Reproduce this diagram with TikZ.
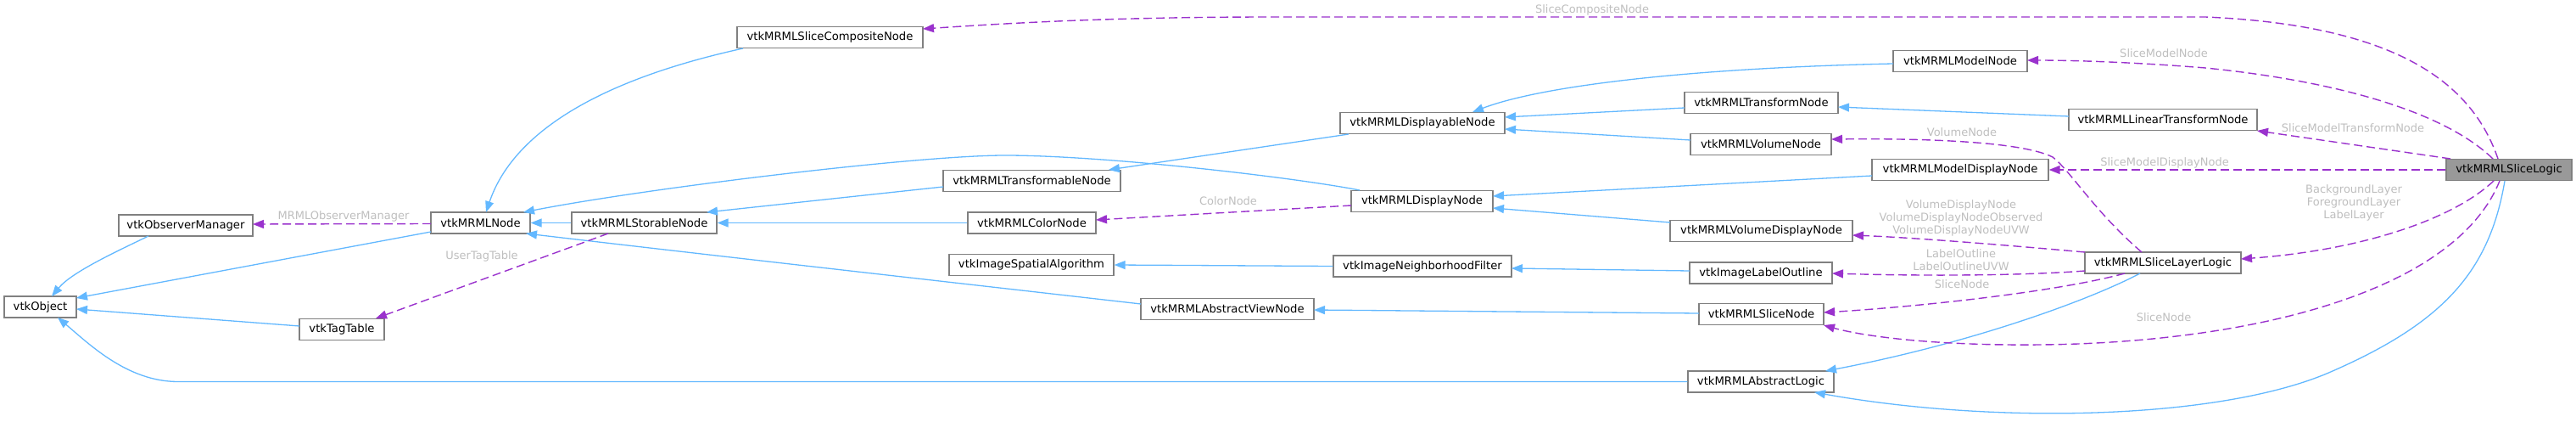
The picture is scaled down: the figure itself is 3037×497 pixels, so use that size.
\documentclass[tikz,border=0pt]{standalone}
\usepackage{fontspec}
\setmainfont{DejaVu Sans}
\usetikzlibrary{arrows.meta,calc}
\definecolor{edgeblue}{HTML}{63B8FF}
\definecolor{edgepurple}{HTML}{9A32CD}
\definecolor{lblgray}{HTML}{BEBEBE}
\definecolor{boxgray}{HTML}{808080}
\definecolor{rootfill}{HTML}{999999}
\begin{document}
\begin{tikzpicture}[x=1pt,y=-1pt,
  cls/.style={draw=boxgray, line width=1.3pt, fill=white, minimum height=25pt,
    inner sep=0pt, font=\fontsize{13.2}{15}\selectfont, text=black},
  inh/.style={draw=edgeblue, line width=1.3pt, -{Triangle[length=13pt,width=10pt]}},
  use/.style={draw=edgepurple, line width=1.4pt, dash pattern=on 10pt off 5pt,
    -{Triangle[length=13pt,width=10pt]}},
  lbl/.style={text=lblgray, inner sep=0pt, align=center,
    font=\fontsize{13}{15}\selectfont}]
\useasboundingbox (0,0) rectangle (3037,497);

% classes
\node[cls, minimum width=85pt]  (obj)    at (47.5,361.5) {vtkObject};
\node[cls, minimum width=158pt] (obsmgr) at (219,265.5)  {vtkObserverManager};
\node[cls, minimum width=117pt] (mrml)   at (566.5,262.5) {vtkMRMLNode};
\node[cls, minimum width=100pt] (tag)    at (403,388)    {vtkTagTable};
\node[cls, minimum width=171pt] (stor)   at (759.5,262.5) {vtkMRMLStorableNode};
\node[cls, minimum width=219pt] (comp)   at (978.5,44)   {vtkMRMLSliceCompositeNode};
\node[cls, minimum width=209pt] (tfable) at (1216.5,213) {vtkMRMLTransformableNode};
\node[cls, minimum width=151pt] (color)  at (1216.5,262.5) {vtkMRMLColorNode};
\node[cls, minimum width=194pt] (spat)   at (1216,312)   {vtkImageSpatialAlgorithm};
\node[cls, minimum width=204pt] (aview)  at (1447,364)   {vtkMRMLAbstractViewNode};
\node[cls, minimum width=194pt] (dable)  at (1677,145)   {vtkMRMLDisplayableNode};
\node[cls, minimum width=167pt] (disp)   at (1676.5,237) {vtkMRMLDisplayNode};
\node[cls, minimum width=210pt] (neigh)  at (1677,313.5) {vtkImageNeighborhoodFilter};
\node[cls, minimum width=158pt] (model)  at (2311,72)    {vtkMRMLModelNode};
\node[cls, minimum width=181pt] (tnode)  at (2076.5,121) {vtkMRMLTransformNode};
\node[cls, minimum width=166pt] (vol)    at (2076,170)   {vtkMRMLVolumeNode};
\node[cls, minimum width=208pt] (mdisp)  at (2311,200)   {vtkMRMLModelDisplayNode};
\node[cls, minimum width=215pt] (vdisp)  at (2076.5,272) {vtkMRMLVolumeDisplayNode};
\node[cls, minimum width=168pt] (lout)   at (2076,321.5) {vtkImageLabelOutline};
\node[cls, minimum width=147pt] (snode)  at (2076.5,370) {vtkMRMLSliceNode};
\node[cls, minimum width=172pt] (alogic) at (2076,449.5) {vtkMRMLAbstractLogic};
\node[cls, minimum width=222pt] (lin)    at (2550,141)   {vtkMRMLLinearTransformNode};
\node[cls, minimum width=184pt] (llogic) at (2550,309.5) {vtkMRMLSliceLayerLogic};
\node[cls, fill=rootfill, minimum width=148pt] (slogic) at (2958,200) {vtkMRMLSliceLogic};

% inheritance (blue)
\draw[inh] ($(obsmgr)+(-44,12.5)$) .. controls (140,295) and (85,320) .. ($(obj)+(13.5,-12.5)$);
\draw[inh] ($(mrml)+(-58.5,10.5)$) -- ($(obj)+(42.5,-10.5)$);
\draw[inh] ($(tag)+(-50,-4)$) -- ($(obj)+(42.5,2.5)$);
\draw[inh] (alogic.west) -- (210,449.5) .. controls (150,449.5) and (105,405) .. ($(obj)+(20.5,12.5)$);
\draw[inh] ($(comp)+(-102.5,13)$) .. controls (680,100) and (600,170) .. ($(mrml)+(6.5,-12.5)$);
\draw[inh] (stor.west) -- (mrml.east);
\draw[inh] ($(disp)+(-73.5,-13)$) .. controls (1520,208) and (1300,183) .. (1185,183)
   .. controls (1080,183) and (760,222) .. ($(mrml)+(50.5,-12.5)$);
\draw[inh] ($(tfable)+(-104.5,7)$) -- ($(stor)+(73.5,-12.5)$);
\draw[inh] (color.west) -- (stor.east);
\draw[inh] ($(aview)+(-102,-6)$) .. controls (1100,330) and (850,302) .. ($(mrml)+(53.5,12.5)$);
\draw[inh] ($(dable)+(-87,13)$) -- ($(tfable)+(90.5,-13)$);
\draw[inh] ($(model)+(-79,3)$) .. controls (2000,80) and (1820,100) .. ($(dable)+(59,-13)$);
\draw[inh] ($(tnode)+(-90.5,6)$) -- ($(dable)+(97,-7)$);
\draw[inh] ($(vol)+(-83,-5)$) -- ($(dable)+(97,7)$);
\draw[inh] ($(lin)+(-111,-4)$) -- ($(tnode)+(90.5,5)$);
\draw[inh] ($(mdisp)+(-104,7)$) -- ($(disp)+(83.5,-6)$);
\draw[inh] ($(vdisp)+(-107.5,-10)$) -- ($(disp)+(83.5,8)$);
\draw[inh] (neigh.west) -- (spat.east);
\draw[inh] ($(lout)+(-84,-2.5)$) -- ($(neigh)+(105,2.5)$);
\draw[inh] ($(snode)+(-73.5,-1)$) -- ($(aview)+(102,1)$);
\draw[inh] ($(llogic)+(-27,12.5)$) .. controls (2460,355) and (2320,405) .. ($(alogic)+(76,-12.5)$);
\draw[inh] ($(slogic)+(-5,13)$) .. controls (2935,320) and (2880,380) .. (2750,437)
   .. controls (2620,495) and (2350,500) .. ($(alogic)+(63,12.5)$);

% usage (purple dashed)
\draw[use] ($(mrml)+(-58.5,1)$) -- ($(obsmgr)+(79,-1.5)$);
\node[lbl] (l-obs) at (405,255) {MRMLObserverManager};

\draw[use] ($(stor)+(-42.5,12.5)$) -- ($(tag)+(40,-13)$);
\node[lbl] (l-tag) at (568,302) {UserTagTable};

\draw[use] ($(disp)+(-83.5,5)$) -- ($(color)+(75.5,-3.5)$);
\node[lbl] (l-col) at (1448,237) {ColorNode};

\draw[use] ($(slogic)+(-13,-13)$) .. controls (2915,100) and (2830,30) .. (2600,20)
   -- (1500,20) .. controls (1300,20) and (1180,28) .. ($(comp)+(109.5,-10)$);
\node[lbl] (l-comp) at (1877,12) {SliceCompositeNode};

\draw[use] ($(slogic)+(-19,-13)$) .. controls (2880,130) and (2750,95) .. (2600,80)
   .. controls (2500,72) and (2430,71) .. ($(model)+(79,-1)$);
\node[lbl] (l-model) at (2551,63) {SliceModelNode};

\draw[use] ($(slogic)+(-69,-13)$) -- ($(lin)+(111,13)$);
\node[lbl] (l-lin) at (2774,151) {SliceModelTransformNode};

\draw[use] (slogic.west) -- (mdisp.east);
\node[lbl] (l-mdisp) at (2552,192) {SliceModelDisplayNode};

\draw[use] ($(slogic)+(-18,13)$) .. controls (2890,260) and (2780,295) .. ($(llogic)+(92,-4.5)$);
\node[lbl] (l-layer) at (2775,239) {BackgroundLayer\\ForegroundLayer\\LabelLayer};

\draw[use] ($(slogic)+(-11,13)$) .. controls (2900,330) and (2700,395) .. (2450,405)
   .. controls (2300,410) and (2200,397) .. ($(snode)+(73.5,13)$);
\node[lbl] (l-snode2) at (2551,374) {SliceNode};

\draw[use] ($(llogic)+(-25,-12.5)$) .. controls (2470,250) and (2440,200) .. (2420,185)
   .. controls (2380,165) and (2250,163) .. ($(vol)+(83,-6)$);
\node[lbl] (l-vol) at (2313,156) {VolumeNode};

\draw[use] ($(llogic)+(-92,-12.5)$) .. controls (2380,290) and (2260,280) .. ($(vdisp)+(107.5,5)$);
\node[lbl] (l-vdisp) at (2312,257) {VolumeDisplayNode\\VolumeDisplayNodeObserved\\VolumeDisplayNodeUVW};

\draw[use] ($(llogic)+(-92,9.5)$) .. controls (2380,325) and (2260,325) .. ($(lout)+(84,0.5)$);
\node[lbl] (l-lout) at (2312,306.5) {LabelOutline\\LabelOutlineUVW};

\draw[use] ($(llogic)+(-45,12.5)$) .. controls (2420,345) and (2250,362) .. ($(snode)+(73.5,-2)$);
\node[lbl] (l-snode1) at (2313,335) {SliceNode};
\end{tikzpicture}
\end{document}
